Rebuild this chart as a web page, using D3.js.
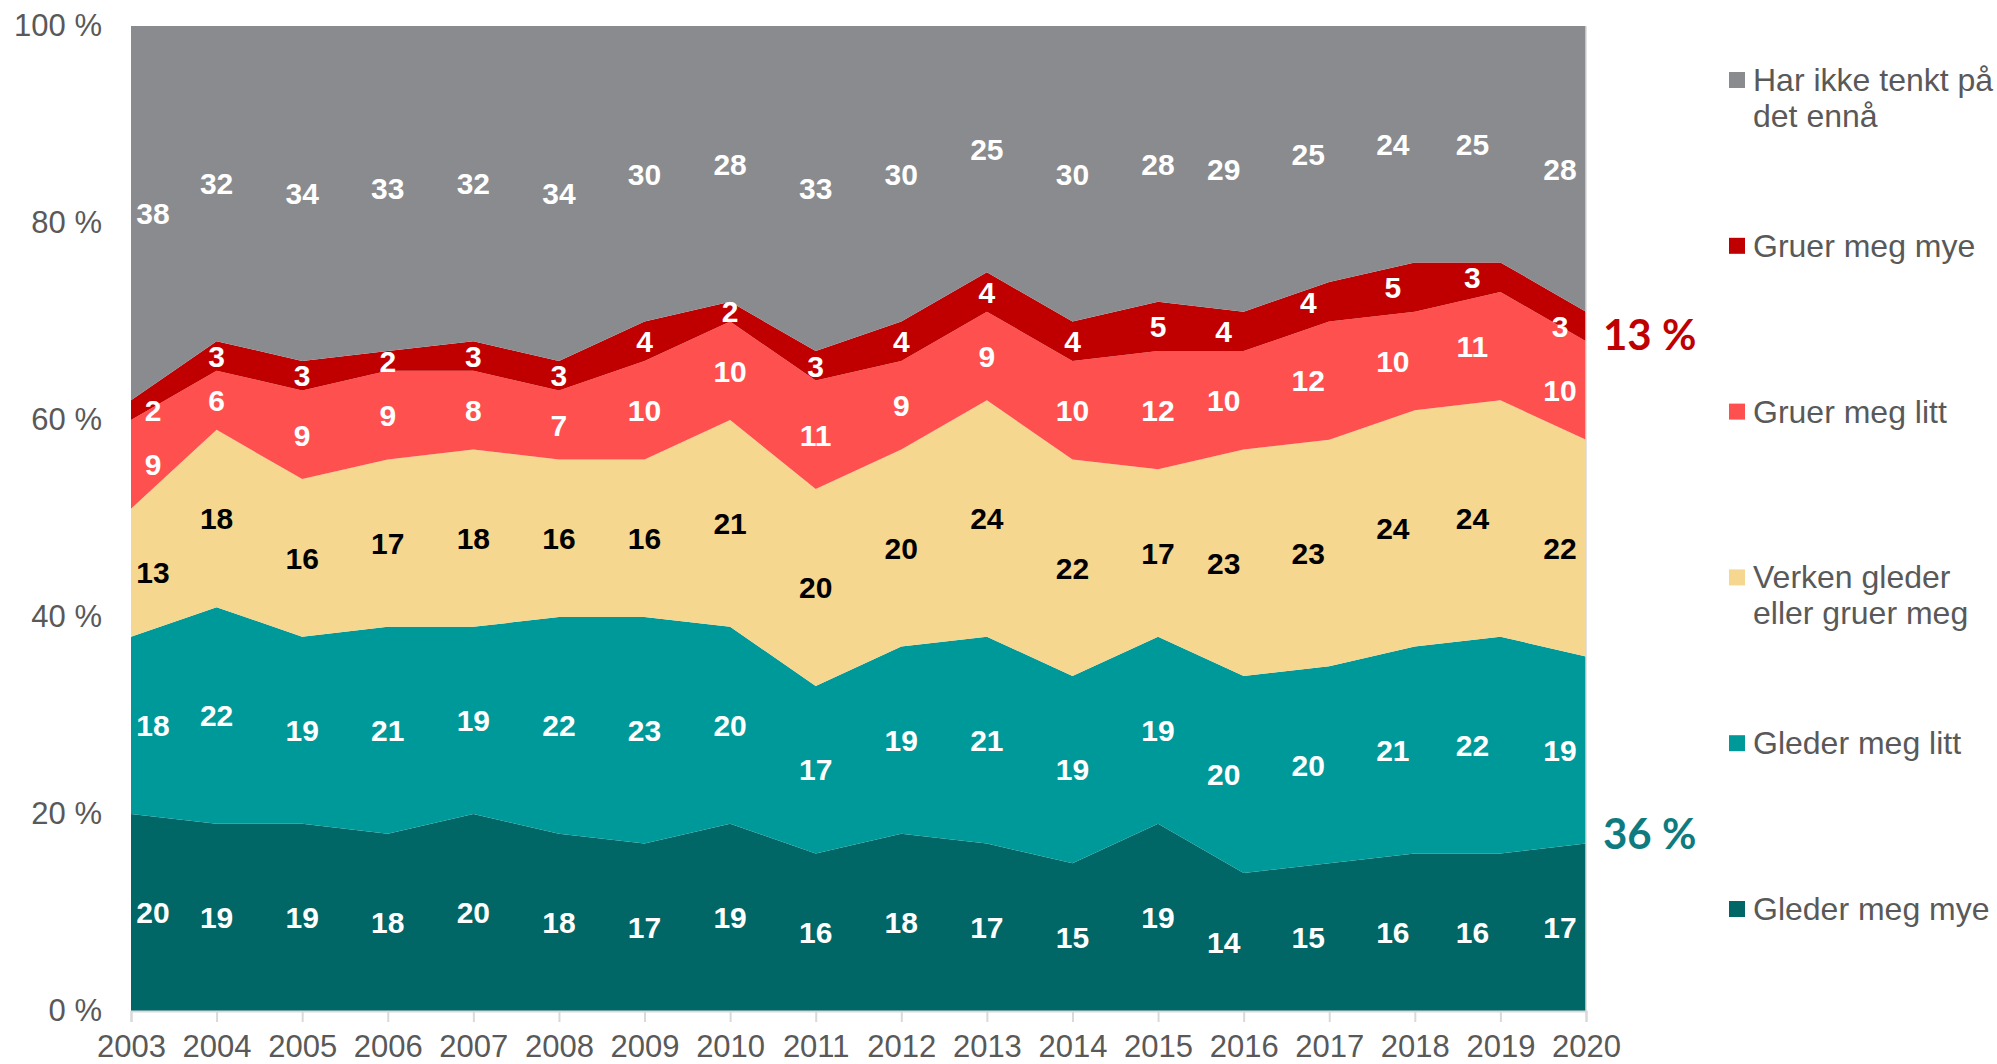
<!DOCTYPE html>
<html>
<head>
<meta charset="utf-8">
<script src="https://cdn.jsdelivr.net/npm/d3@7"></script>
<style>
  body { margin: 0; background: #fff; }
  text { font-family: "Liberation Sans", Arial, sans-serif; }
</style>
</head>
<body>
<div id="chart"></div>
<script>
// Survey years (x axis)
const years = [2003, 2004, 2005, 2006, 2007, 2008, 2009, 2010, 2011, 2012,
               2013, 2014, 2015, 2016, 2017, 2018, 2019, 2020];

// Series values in percent, bottom of the stack first
const glederMye  = [20, 19, 19, 18, 20, 18, 17, 19, 16, 18, 17, 15, 19, 14, 15, 16, 16, 17];
const glederLitt = [18, 22, 19, 21, 19, 22, 23, 20, 17, 19, 21, 19, 19, 20, 20, 21, 22, 19];
const verken     = [13, 18, 16, 17, 18, 16, 16, 21, 20, 20, 24, 22, 17, 23, 23, 24, 24, 22];
const gruerLitt  = [ 9,  6,  9,  9,  8,  7, 10, 10, 11,  9,  9, 10, 12, 10, 12, 10, 11, 10];
const gruerMye   = [ 2,  3,  3,  2,  3,  3,  4,  2,  3,  4,  4,  4,  5,  4,  4,  5,  3,  3];
const harIkke    = [38, 32, 34, 33, 32, 34, 30, 28, 33, 30, 25, 30, 28, 29, 25, 24, 25, 28];

const yTicks = [0, 20, 40, 60, 80, 100];

// stacking order and styling
const series = [
    { key: 'glederMye',  values: glederMye,  name: ['Gleder meg mye'],                 color: '#006666', label: '#fff' },
    { key: 'glederLitt', values: glederLitt, name: ['Gleder meg litt'],                color: '#009999', label: '#fff' },
    { key: 'verken',     values: verken,     name: ['Verken gleder', 'eller gruer meg'], color: '#F5D78F', label: '#000' },
    { key: 'gruerLitt',  values: gruerLitt,  name: ['Gruer meg litt'],                 color: '#FF5050', label: '#fff' },
    { key: 'gruerMye',   values: gruerMye,   name: ['Gruer meg mye'],                  color: '#C00000', label: '#fff' },
    { key: 'harIkke',    values: harIkke,    name: ['Har ikke tenkt på', 'det ennå'],  color: '#898B8E', label: '#fff' }
];

// horizontal nudges (px) for the value labels, the way they sit in the original
const labelNudge = { 2003: 22, 2016: -20, 2017: -21, 2018: -22, 2019: -28, 2020: -26 };

const W = 1997, H = 1064;
const svg = d3.select('#chart').append('svg').attr('width', W).attr('height', H);

const x = d3.scaleLinear().domain([2003, 2020]).range([131, 1586]);
const y = d3.scaleLinear().domain([0, 100]).range([1011, 26]);

// build table for d3.stack
const table = years.map((yr, i) => {
    const row = { year: yr };
    series.forEach(s => row[s.key] = s.values[i]);
    return row;
});
const stacked = d3.stack().keys(series.map(s => s.key))(table);
const last = stacked.length - 1;

// Areas. Top layer is the remainder up to 100 %.
stacked.forEach((layer, li) => {
    const area = d3.area()
        .x(d => x(d.data.year))
        .y0(d => y(d[0]))
        .y1(d => y(li === last ? 100 : d[1]));
    svg.append('path')
        .datum(layer)
        .attr('d', area)
        .attr('fill', series[li].color);
});

// Value labels in the middle of each band
stacked.forEach((layer, li) => {
    svg.append('g').selectAll('text')
        .data(layer)
        .enter()
        .append('text')
        .attr('x', d => x(d.data.year) + (labelNudge[d.data.year] || 0))
        .attr('y', d => y(((li === last ? 100 : d[1]) + d[0]) / 2))
        .attr('dy', '0.36em')
        .attr('text-anchor', 'middle')
        .attr('font-size', 30)
        .attr('font-weight', 'bold')
        .attr('fill', series[li].label)
        .text((d, i) => series[li].values[i]);
});

// right edge of the plot
svg.append('line')
    .attr('x1', x(2020)).attr('x2', x(2020))
    .attr('y1', y(100)).attr('y2', y(0))
    .attr('stroke', '#D9D9D9').attr('stroke-width', 1.5);

// y axis
const yAxis = svg.append('g')
    .attr('transform', `translate(${x(2003)},0)`)
    .call(d3.axisLeft(y).tickValues(yTicks).tickFormat(d => d + ' %').tickSize(0).tickPadding(29));
yAxis.select('.domain').remove();
yAxis.selectAll('text').attr('font-size', 31).attr('fill', '#595959')
    .style('font-family', '"Liberation Sans", Arial, sans-serif');

// x axis
const xAxis = svg.append('g')
    .attr('transform', `translate(0,${y(0)})`)
    .call(d3.axisBottom(x).tickValues(years).tickFormat(d3.format('d')).tickSize(11).tickPadding(13));
xAxis.select('.domain').attr('stroke', '#D9D9D9').attr('stroke-width', 2);
xAxis.selectAll('.tick line').attr('stroke', '#D9D9D9').attr('stroke-width', 2);
xAxis.selectAll('text').attr('font-size', 31).attr('fill', '#595959')
    .style('font-family', '"Liberation Sans", Arial, sans-serif');

// Totals for 2020 next to the chart
const n = years.length - 1;
const annotations = [
    { text: (gruerMye[n] + gruerLitt[n]) + ' %', at: 68.6, color: '#C00000' },
    { text: (glederMye[n] + glederLitt[n]) + ' %', at: 18.0, color: '#0E7B80' }
];
svg.selectAll('.anno')
    .data(annotations)
    .enter()
    .append('text')
    .attr('class', 'anno')
    .attr('x', 1603)
    .attr('y', d => y(d.at))
    .attr('dy', '0.36em')
    .attr('font-size', 42)
    .attr('font-weight', 'bold')
    .attr('fill', d => d.color)
    .style('font-family', 'Lato, "Open Sans", sans-serif')
    .text(d => d.text);

// Legend, top entry first
const legend = svg.append('g');
const legendItems = series.slice().reverse();
legendItems.forEach((s, i) => {
    const base = 91 + i * 165.8;
    legend.append('rect')
        .attr('x', 1729).attr('y', base - 19)
        .attr('width', 16).attr('height', 16)
        .attr('fill', s.color);
    s.name.forEach((line, j) => {
        legend.append('text')
            .attr('x', 1753)
            .attr('y', base + j * 36)
            .attr('font-size', 32)
            .attr('fill', '#595959')
            .text(line);
    });
});
</script>
</body>
</html>
